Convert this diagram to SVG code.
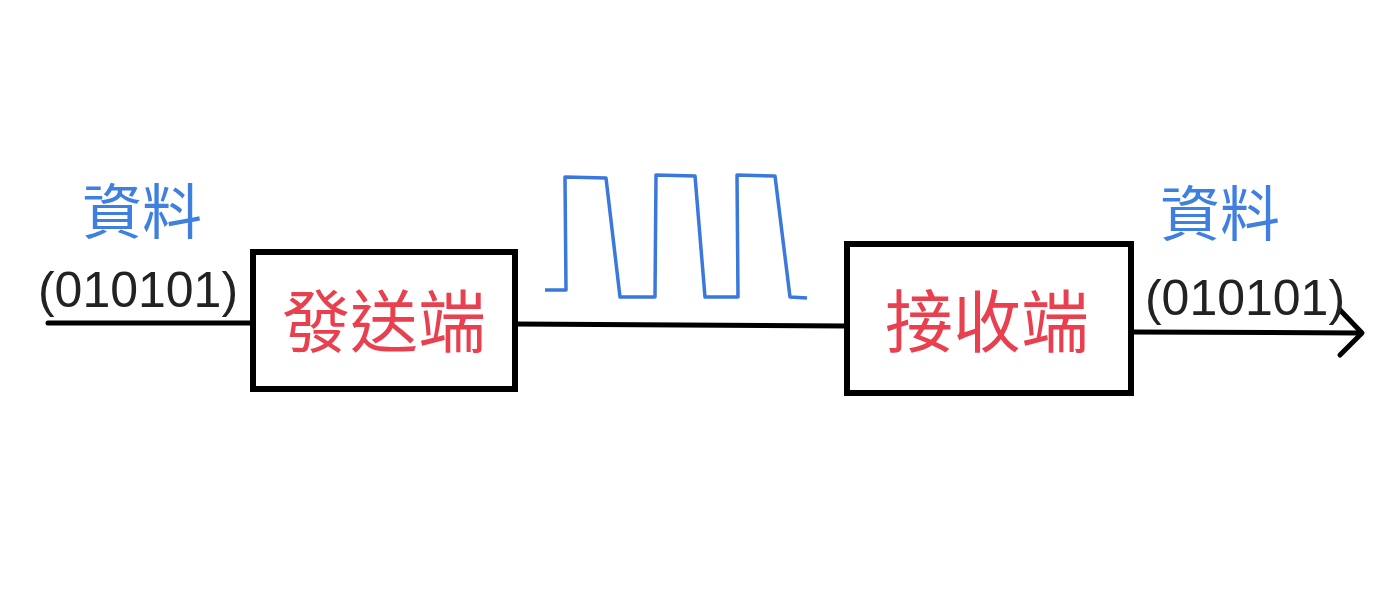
<svg xmlns="http://www.w3.org/2000/svg" width="1400" height="606" viewBox="0 0 1400 606">
<style>
.box{fill:none;stroke:#000;stroke-width:6}
.ln{fill:none;stroke:#000;stroke-width:5;stroke-linecap:round;stroke-linejoin:round}
.blue{font-family:"Noto Sans CJK TC","Noto Sans CJK SC",sans-serif;fill:#3f7fe0;font-size:60px;text-anchor:middle}
.red{font-family:"Noto Sans CJK TC","Noto Sans CJK SC",sans-serif;fill:#e8404f;font-size:68px;text-anchor:middle}
.blk{font-family:"Liberation Sans",sans-serif;fill:#222;font-size:50px;text-anchor:middle}
</style>
<rect width="1400" height="606" fill="#fff"/>
<g id="connectors">
<path class="ln" d="M48 323 L253 323"/>
<path class="ln" d="M515 324 L847 326"/>
<path class="ln" d="M1131 332 L1360 333"/>
<path class="ln" d="M1340 310 L1362 333 L1340 355"/>
</g>
<g id="wave"><path d="M545 290 L566 290 L565 177 L606 178 L620 297 L655 297 L656 175 L695 176 L705 297 L738 297 L737 175 L775 176 L790 297 L807 298" fill="none" stroke="#3a78db" stroke-width="3.5" stroke-linejoin="round"/></g>
<g id="input">
<text class="blue" x="142" y="234">資料</text>
<text class="blk" x="138" y="307">(010101)</text>
</g>
<g id="sender">
<rect class="box" x="253" y="252" width="262" height="137"/>
<text class="red" x="384" y="347">發送端</text>
</g>
<g id="receiver">
<rect class="box" x="847" y="244" width="284" height="149"/>
<text class="red" x="987" y="347">接收端</text>
</g>
<g id="output">
<text class="blue" x="1220" y="236">資料</text>
<text class="blk" x="1245" y="315">(010101)</text>
</g>
</svg>
